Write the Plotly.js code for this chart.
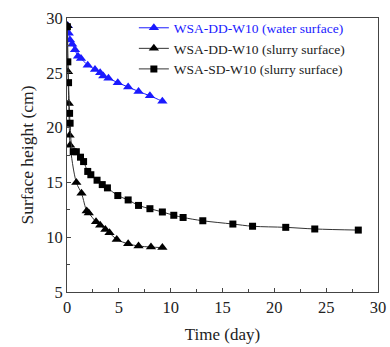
<!DOCTYPE html>
<html>
<head>
<meta charset="utf-8">
<script src="https://cdn.plot.ly/plotly-3.0.1.min.js"></script>
<style>html,body{margin:0;padding:0;background:#fff;}#chart{width:390px;height:347px;}</style>
</head>
<body>
<div id="chart"></div>
<script>
// Data
var waterX = [0.08, 0.17, 0.29, 0.5, 0.77, 1.06, 1.35, 2.0, 2.7, 3.2, 3.5, 4.0, 4.9, 5.9, 6.9, 8.0, 9.2];
var waterY = [29.3, 28.6, 28.0, 27.6, 27.1, 26.5, 26.3, 25.7, 25.3, 25.0, 24.7, 24.5, 24.1, 23.7, 23.3, 22.9, 22.4];

var ddSlurryX = [0.04, 0.1, 0.17, 0.25, 0.3, 0.9, 1.4, 1.9, 2.1, 2.8, 3.2, 3.7, 4.1, 4.8, 5.9, 6.9, 8.1, 9.2];
var ddSlurryY = [29.3, 25.1, 22.2, 19.3, 18.4, 15.0, 14.0, 12.4, 12.2, 11.4, 11.1, 10.7, 10.4, 9.8, 9.4, 9.2, 9.1, 9.05];

var sdSlurryX = [0.04, 0.08, 0.15, 0.25, 0.3, 0.6, 0.9, 1.3, 1.6, 2.0, 2.3, 2.9, 3.4, 3.9, 4.9, 5.9, 6.9, 8.0, 9.2, 10.3, 11.2, 13.1, 16.0, 17.9, 21.1, 23.9, 28.1];
var sdSlurryY = [29.2, 26.0, 24.1, 21.3, 20.4, 17.8, 17.8, 17.3, 16.9, 16.0, 15.7, 15.2, 14.8, 14.5, 13.8, 13.4, 12.9, 12.6, 12.3, 12.0, 11.8, 11.5, 11.2, 11.0, 10.9, 10.75, 10.65];

var seriesNames = [
  '<span style="color:#1a1aff">WSA-DD-W10 (water surface)</span>',
  'WSA-DD-W10 (slurry surface)',
  'WSA-SD-W10 (slurry surface)'
];
var tickVals = [0, 5, 10, 15, 20, 25, 30];
var yTickVals = [5, 10, 15, 20, 25, 30];

var serif = 'Liberation Serif, Times New Roman, serif';

var traces = [
  {x: waterX, y: waterY, name: seriesNames[0], type: 'scatter', mode: 'lines+markers',
   line: {color: '#1a1aff', width: 1, shape: 'spline'},
   marker: {symbol: 'triangle-up', size: 9, color: '#1a1aff'}},
  {x: ddSlurryX, y: ddSlurryY, name: seriesNames[1], type: 'scatter', mode: 'lines+markers',
   line: {color: '#333', width: 1, shape: 'spline'},
   marker: {symbol: 'triangle-up', size: 9, color: '#000'}},
  {x: sdSlurryX, y: sdSlurryY, name: seriesNames[2], type: 'scatter', mode: 'lines+markers',
   line: {color: '#333', width: 1, shape: 'spline'},
   marker: {symbol: 'square', size: 7, color: '#000'}}
];

var axisCommon = {
  showgrid: false, zeroline: false, showline: true, linecolor: '#444', linewidth: 1,
  mirror: true, ticks: 'inside', ticklen: 4, tickwidth: 1, tickcolor: '#444',
  tickfont: {family: serif, size: 16.5, color: '#222'},
  minor: {ticks: 'inside', ticklen: 3, tickwidth: 1, tickcolor: '#444'}
};

var layout = {
  width: 390, height: 347,
  margin: {l: 67, r: 12, t: 18, b: 55},
  paper_bgcolor: '#fff', plot_bgcolor: '#fff',
  showlegend: true,
  legend: {x: 0.215, y: 1.02, xanchor: 'left', yanchor: 'top', bgcolor: 'rgba(0,0,0,0)',
           font: {family: serif, size: 13.5, color: '#222'}, tracegroupgap: 0},
  xaxis: Object.assign({}, axisCommon, {
    range: [0, 30], tickvals: tickVals, minor: Object.assign({}, axisCommon.minor, {dtick: 2.5}),
    title: {text: 'Time (day)', font: {family: serif, size: 17, color: '#222'}, standoff: 12}
  }),
  yaxis: Object.assign({}, axisCommon, {
    range: [5, 30], tickvals: yTickVals, minor: Object.assign({}, axisCommon.minor, {dtick: 2.5}),
    title: {text: 'Surface height (cm)', font: {family: serif, size: 17.5, color: '#222'}, standoff: 8}
  })
};

Plotly.newPlot('chart', traces, layout, {displayModeBar: false, staticPlot: true});
</script>
</body>
</html>
